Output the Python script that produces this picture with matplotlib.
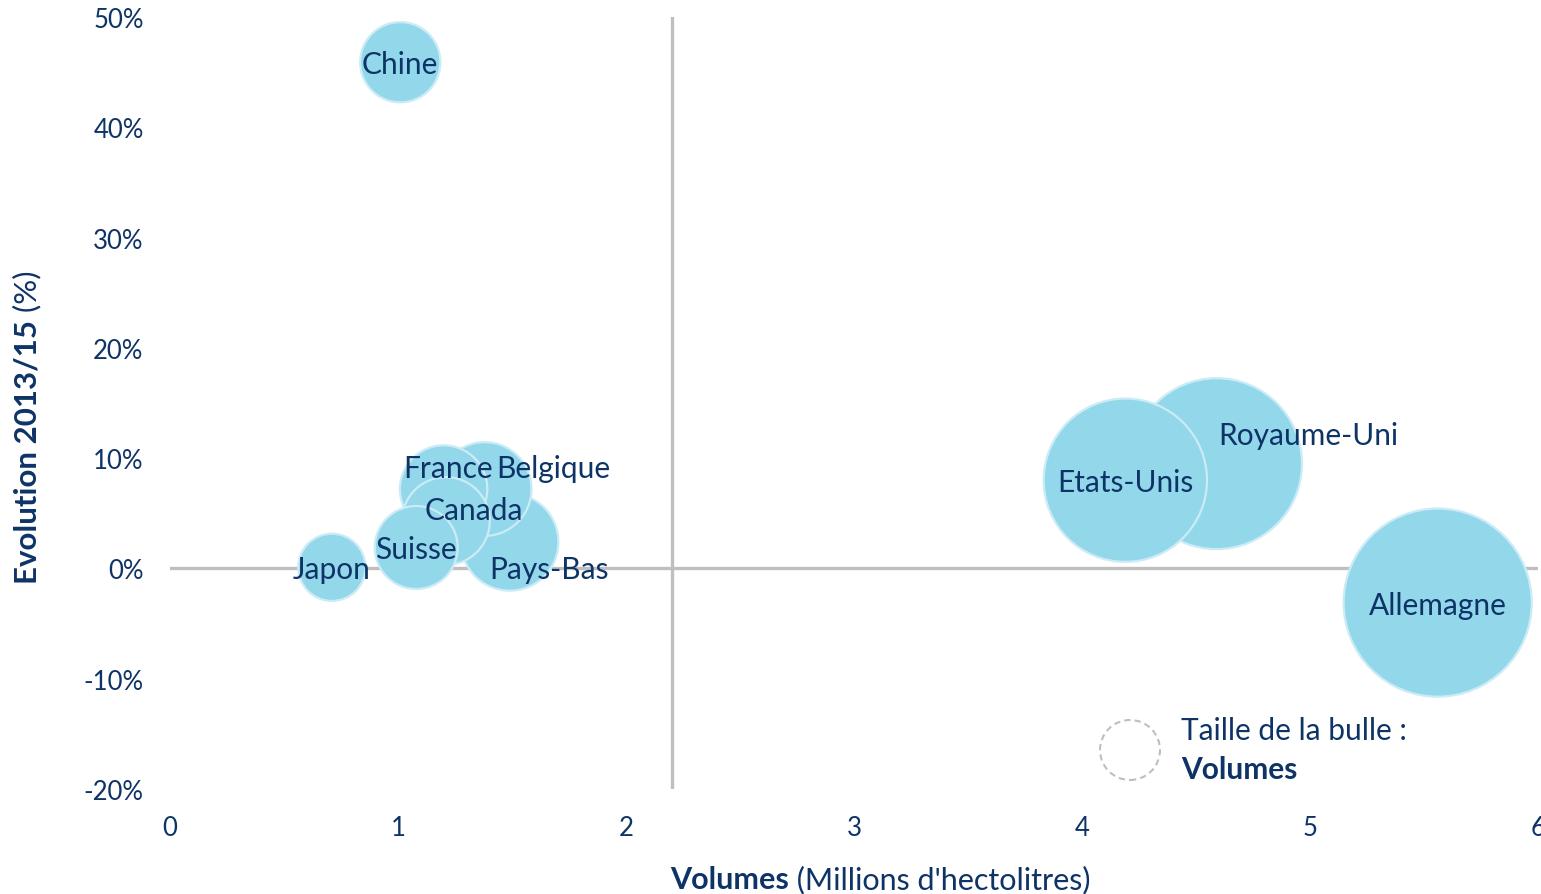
import matplotlib.pyplot as plt
from matplotlib.patches import Circle

# Data
pays = ["Allemagne", "Royaume-Uni", "Etats-Unis", "Pays-Bas", "Belgique",
        "France", "Canada", "Suisse", "Chine", "Japon"]
volumes = [5.56, 4.59, 4.19, 1.49, 1.38, 1.20, 1.21, 1.08, 1.01, 0.71]
evolution = [-3.1, 9.5, 8.0, 2.4, 7.2, 7.2, 4.3, 1.9, 45.9, 0.1]

x_ticks = [0, 1, 2, 3, 4, 5, 6]
y_ticks = [-20, -10, 0, 10, 20, 30, 40, 50]

# label offsets in pixels (manual placement as in the original)
label_offsets = {"France": (4, 23), "Belgique": (69, 23), "Canada": (28, 13),
                 "Pays-Bas": (39, -25), "Royaume-Uni": (92, 31)}

navy = '#0e3366'
grey = '#bfbfbf'
plt.rcParams['font.family'] = ['Lato', 'DejaVu Sans']

fig = plt.figure(figsize=(15.41, 8.95), dpi=100)
ax = fig.add_axes([170 / 1541, 105 / 895, 1368 / 1541, 772 / 895])

ax.axhline(0, color=grey, lw=2.4, zorder=1)
ax.axvline(2.2, color=grey, lw=2.4, zorder=1)

# bubble area proportional to volume
ax.scatter(volumes, evolution, s=[3300 * v for v in volumes], c='#92d7ea',
           edgecolors='#cbecf6', linewidths=1.6, zorder=2)

for name, xv, yv in zip(pays, volumes, evolution):
    dx, dy = label_offsets.get(name, (0, 0))
    ax.annotate(name, (xv, yv), xytext=(dx, dy - 2), textcoords='offset pixels',
                ha='center', va='center', fontsize=21.5, color=navy, zorder=3)

ax.set_xlim(0, 6)
ax.set_ylim(-20, 50)
ax.set_xticks(x_ticks)
ax.set_yticks(y_ticks)
ax.set_yticklabels([f"{t}%" for t in y_ticks])
ax.tick_params(length=0, labelsize=18.5, labelcolor=navy)
ax.tick_params(axis='x', pad=19)
ax.tick_params(axis='y', pad=19)
for sp in ax.spines.values():
    sp.set_visible(False)

# axis titles: bold part + regular part
t1 = fig.text(670 / 1541, 1 / 895, "Volumes", fontsize=22, fontweight='bold',
              color=navy, ha='left', va='bottom')
ax.annotate(" (Millions d'hectolitres)", xy=(1, 0), xycoords=t1, fontsize=22,
            color=navy, ha='left', va='bottom')
t2 = fig.text(13 / 1541, (895 - 584) / 895, "Evolution 2013/15", fontsize=22.5,
              fontweight='bold', color=navy, rotation=90, ha='left', va='bottom')
ax.annotate(" (%)", xy=(0.5, 1), xycoords=t2, fontsize=22.5, color=navy,
            rotation=90, ha='center', va='bottom')

# bubble size legend
fig.patches.append(Circle((11.30, 1.44), 0.30, transform=fig.dpi_scale_trans,
                          fill=False, ec=grey, lw=1.5, ls=(0, (3, 2))))
fig.text(1181 / 1541, (895 - 731) / 895, "Taille de la bulle :", fontsize=21.5,
         color=navy, ha='left', va='center')
fig.text(1181 / 1541, (895 - 770) / 895, "Volumes", fontsize=21.5,
         fontweight='bold', color=navy, ha='left', va='center')

fig.savefig('out.png', dpi=100)
